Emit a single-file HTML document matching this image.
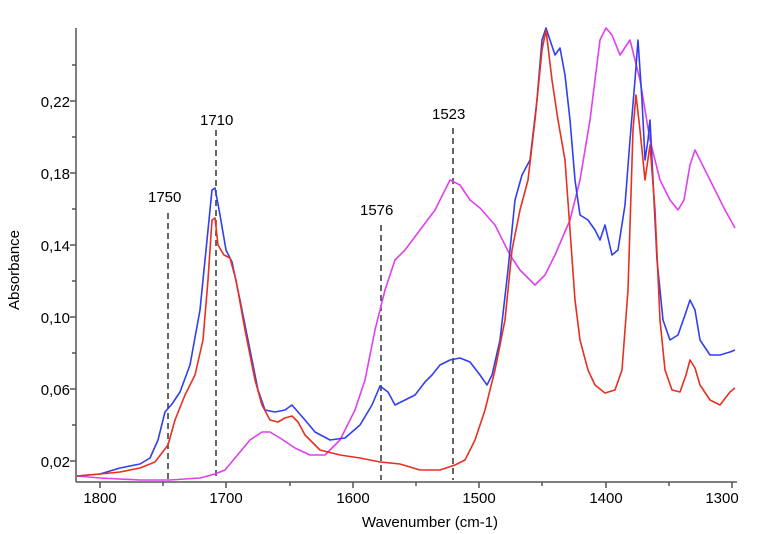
<!DOCTYPE html><html><head><style>body{margin:0;background:#fff}svg{display:block}text{font-family:"Liberation Sans",sans-serif;font-size:15px;fill:#000}</style></head><body>
<svg width="760" height="534" viewBox="0 0 760 534">
<g stroke="#555" stroke-width="1.5" fill="none">
<line x1="76" y1="28" x2="76" y2="482"/><line x1="76" y1="482" x2="737" y2="482"/>
<path d="M70 461H76M70 389H76M70 317H76M70 245H76M70 173H76M70 101H76M72 425H76M72 353H76M72 281H76M72 209H76M72 137H76M72 65H76"/>
<path d="M100 482V488M226 482V488M353 482V488M479 482V488M606 482V488M732 482V488M163 482V486M290 482V486M416 482V486M542 482V486M669 482V486"/>
</g>
<g font-size="15">
<text x="70" y="467" text-anchor="end">0,02</text><text x="70" y="395" text-anchor="end">0,06</text><text x="70" y="323" text-anchor="end">0,10</text><text x="70" y="251" text-anchor="end">0,14</text><text x="70" y="179" text-anchor="end">0,18</text><text x="70" y="107" text-anchor="end">0,22</text>
<text x="100" y="503" text-anchor="middle">1800</text><text x="226" y="503" text-anchor="middle">1700</text><text x="353" y="503" text-anchor="middle">1600</text><text x="479" y="503" text-anchor="middle">1500</text><text x="606" y="503" text-anchor="middle">1400</text><text x="722" y="503" text-anchor="middle">1300</text>
<text x="430" y="527" text-anchor="middle">Wavenumber (cm-1)</text>
<text transform="translate(19,270) rotate(-90)" text-anchor="middle">Absorbance</text>
<text x="148" y="202">1750</text><text x="200" y="125">1710</text><text x="360" y="215">1576</text><text x="432" y="119">1523</text>
</g>
<g stroke="#333" stroke-width="1.5" stroke-dasharray="6,4">
<line x1="168" y1="213" x2="168" y2="480"/><line x1="216" y1="130" x2="216" y2="480"/><line x1="381" y1="225" x2="381" y2="480"/><line x1="453" y1="128" x2="453" y2="480"/>
</g>
<g fill="none" stroke-width="1.6" stroke-linejoin="round">
<polyline stroke="#e040f0" points="77,476 100,478 140,480 170,480 200,478 215,474 225,470 235,458 250,440 262,432 270,432 280,438 295,448 310,455 325,455 340,440 355,410 365,380 375,330 385,290 395,260 405,250 420,230 435,210 450,180 460,185 470,200 480,208 495,225 510,255 520,270 535,285 545,275 555,255 570,220 580,180 590,120 600,40 606,28 612,35 620,55 630,40 640,80 650,140 660,180 670,200 678,210 684,200 690,165 695,150 705,170 715,190 725,210 735,228"/>
<polyline stroke="#3040f0" points="77,476 100,474 120,468 140,464 150,458 158,440 165,412 172,404 180,392 190,365 200,310 207,240 212,190 215,188 220,215 226,250 232,262 240,300 250,350 258,390 265,410 275,412 285,410 292,405 298,412 305,420 315,432 330,440 345,438 360,425 372,405 380,386 388,392 395,405 405,400 415,395 425,382 432,375 440,365 450,360 460,358 470,362 480,375 487,385 492,375 500,340 508,270 515,200 522,175 530,160 537,100 542,40 546,28 550,40 555,55 560,48 565,75 570,120 575,180 580,215 588,220 595,230 600,240 605,225 612,255 618,250 625,205 630,140 635,80 638,40 642,100 645,160 648,140 650,120 653,180 657,260 663,320 670,340 678,335 685,315 690,300 695,310 700,340 710,355 720,355 730,352 735,350"/>
<polyline stroke="#e83020" points="77,476 100,474 120,472 140,468 155,462 168,445 175,420 185,395 195,375 203,340 208,280 212,220 215,218 218,245 224,255 230,258 236,280 245,330 255,380 262,405 270,420 278,422 285,418 292,416 298,422 305,435 320,450 340,455 360,458 380,462 400,464 420,470 440,470 455,465 465,460 475,440 485,410 495,370 505,320 512,250 520,210 528,180 535,120 542,50 546,30 552,80 558,120 565,160 570,230 575,300 580,340 588,370 595,385 605,393 615,390 622,370 628,290 633,130 636,95 640,130 645,180 650,145 655,210 660,320 665,370 672,390 680,392 686,375 690,360 695,368 700,385 710,400 720,405 730,392 735,388"/>
</g>
</svg></body></html>
